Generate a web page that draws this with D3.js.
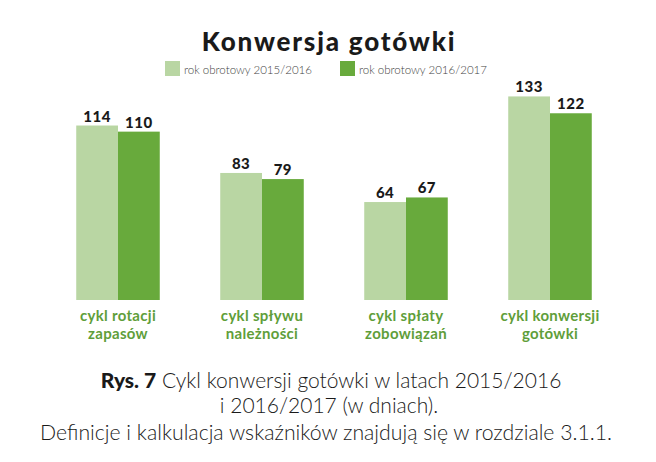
<!DOCTYPE html>
<html><head><meta charset="utf-8">
<script src="https://cdn.jsdelivr.net/npm/d3@7"></script>
<style>body{margin:0;background:#fff}svg{display:block}</style>
</head><body>
<script>
const categories = [["cykl rotacji","zapasów"],["cykl spływu","należności"],["cykl spłaty","zobowiązań"],["cykl konwersji","gotówki"]];
const seriesNames = ["rok obrotowy 2015/2016","rok obrotowy 2016/2017"];
const values2015 = [114, 83, 64, 133];
const values2016 = [110, 79, 67, 122];
const colors = ["#b9d6a3","#68aa3c"];
const W = 656, H = 462;
const svg = d3.select("body").append("svg").attr("width",W).attr("height",H);
const font = "Lato, 'Open Sans', sans-serif";

const x0 = d3.scaleBand().domain(d3.range(categories.length)).range([46,622]).paddingInner(0.42).paddingOuter(0.21);
const x1 = d3.scaleBand().domain([0,1]).range([0,x0.bandwidth()]);
const y = d3.scaleLinear().domain([0,196]).range([300,0]);

const data = categories.map((c,i)=>({i, vals:[values2015[i], values2016[i]]}));
const g = svg.selectAll("g.grp").data(data).join("g").attr("transform",d=>`translate(${x0(d.i)},0)`);
g.selectAll("rect").data(d=>d.vals.map((v,s)=>({v,s}))).join("rect")
  .attr("x",d=>x1(d.s)).attr("width",x1.bandwidth()).attr("y",d=>y(d.v)).attr("height",d=>y(0)-y(d.v))
  .attr("fill",d=>colors[d.s]);
g.selectAll("text.val").data(d=>d.vals.map((v,s)=>({v,s}))).join("text").attr("class","val")
  .attr("x",d=>x1(d.s)+x1.bandwidth()/2).attr("y",d=>y(d.v)-4).attr("text-anchor","middle")
  .attr("font-family",font).attr("font-weight",900).attr("font-size",15).attr("fill","#1a1a1a")
  .attr("letter-spacing",0.5).text(d=>d.v);

// category labels
const xc = d3.axisBottom(x0).tickSize(0).tickFormat(()=>"" );
const ax = svg.append("g").attr("transform","translate(0,300)").call(xc);
ax.select(".domain").remove();
ax.selectAll(".tick").each(function(d){
  const t = d3.select(this).select("text").text(null).attr("y",0).attr("dy",null)
    .attr("font-family",font).attr("font-weight",700).attr("font-size",15).attr("fill","#5f9e3a")
    .attr("letter-spacing",0.3);
  categories[d].forEach((line,k)=>t.append("tspan").attr("x",0).attr("y",21+k*18).text(line));
});

// title
svg.append("text").attr("x",329).attr("y",51).attr("text-anchor","middle")
  .attr("font-family",font).attr("font-weight",900).attr("font-size",26).attr("fill","#1a1a1a")
  .attr("letter-spacing",1.8).text("Konwersja gotówki");

// legend
const legX = [165, 340];
seriesNames.forEach((n,s)=>{
  svg.append("rect").attr("x",legX[s]).attr("y",61).attr("width",15).attr("height",15).attr("fill",colors[s]);
  svg.append("text").attr("x",legX[s]+19).attr("y",74).attr("font-family",font).attr("font-weight",300)
    .attr("font-size",12).attr("fill","#444").attr("textLength",128).attr("lengthAdjust","spacingAndGlyphs").text(n);
});

// caption
const cap = svg.append("g").attr("font-family",font).attr("font-size",21).attr("fill","#1a1a1a").attr("text-anchor","middle");
const l1 = cap.append("text").attr("x",331).attr("y",388);
l1.append("tspan").attr("font-weight",900).text("Rys. 7");
l1.append("tspan").attr("font-weight",300).text(" Cykl konwersji gotówki w latach 2015/2016");
cap.append("text").attr("x",329).attr("y",413).attr("font-weight",300).text("i 2016/2017 (w dniach).");
cap.append("text").attr("x",326).attr("y",440).attr("font-weight",300).attr("textLength",572)
  .attr("lengthAdjust","spacingAndGlyphs").text("Definicje i kalkulacja wskaźników znajdują się w rozdziale 3.1.1.");
</script>
</body></html>
